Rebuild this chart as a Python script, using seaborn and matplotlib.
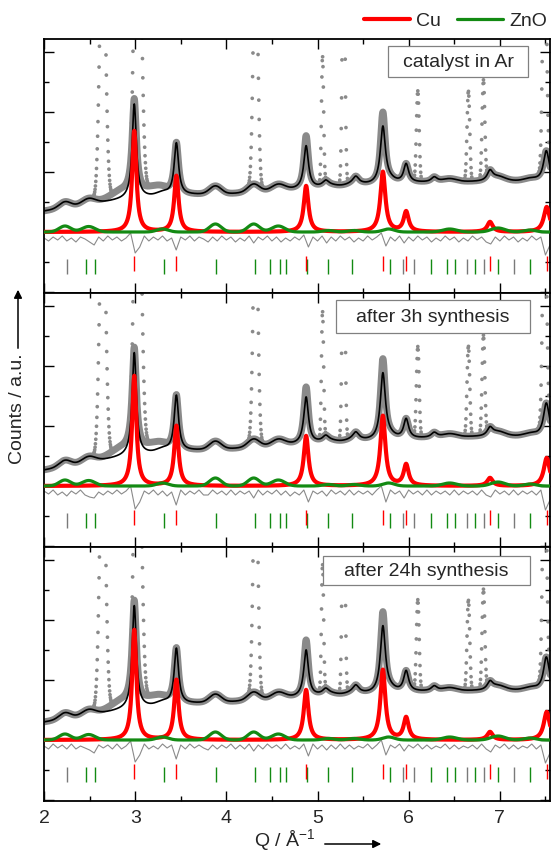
import numpy as np
import matplotlib
matplotlib.use("Agg")
import matplotlib.pyplot as plt
from matplotlib.patches import Rectangle, FancyArrowPatch
from matplotlib.lines import Line2D
import seaborn as sns

sns.set_theme(style="ticks")
plt.rcParams["font.family"] = ["Liberation Sans", "DejaVu Sans"]
plt.rcParams["mathtext.default"] = "regular"

# ---------------- reflection lists (Q in 1/Å) ----------------
cu_q = [2.990, 3.452, 4.875, 5.717, 5.972, 6.892, 7.514]
cu_fwhm = [0.055, 0.058, 0.062, 0.066, 0.066, 0.072, 0.078]
zno_tick_q = [2.458, 2.560, 3.320, 3.887, 4.310, 4.484, 4.593, 4.656, 4.887,
              5.113, 5.381, 5.795, 6.242, 6.418, 6.510, 6.729, 6.978, 7.333]
other_tick_q = [2.256, 5.937, 6.059, 6.645, 6.828, 7.157]

# broad ZnO contributions
zno_q = [2.23, 2.49, 3.30, 3.88, 4.30, 4.57, 5.12, 5.40, 5.78, 6.45, 6.98, 7.33]
zno_fwhm = [0.15, 0.17, 0.15, 0.15, 0.15, 0.17, 0.15, 0.15, 0.15, 0.18, 0.18, 0.15]

# additional calculated reflections of the remaining phases
extra_q = [5.09, 5.42, 6.28, 7.50]
extra_fwhm = [0.08, 0.08, 0.08, 0.06]

# sharp single-crystal spots from the sample environment (obs only)
spike_q = [2.643, 3.035, 4.320, 5.055, 5.286, 6.100, 6.655, 6.820, 7.490]
spike_h = [280, 300, 250, 126, 260, 90, 90, 99, 250]
spike_w = [0.075, 0.080, 0.058, 0.028, 0.035, 0.035, 0.035, 0.035, 0.047]

# unfitted intensity in the observed pattern
misfit_q = [2.85, 3.20, 4.875, 5.716]
misfit_w = [0.30, 0.25, 0.05, 0.05]

# background knots
bg_q = [2.0, 2.5, 3.0, 3.5, 4.0, 4.5, 5.0, 5.5, 6.0, 6.5, 7.0, 7.55]

# ---------------- per-sample values ----------------
labels = ["catalyst in Ar", "after 3h synthesis", "after 24h synthesis"]

bg_1 = [82, 89, 95, 98, 99, 102, 105, 108, 110, 111, 112, 112]
bg_2 = [77, 85, 92, 96, 98, 101, 104, 106, 108, 110, 111, 111]
bg_3 = [79, 86, 93, 97, 99, 102, 105, 107, 109, 110, 111, 111]

cu_h_1 = [101, 56, 46, 60, 20, 10, 25]
cu_h_2 = [110, 60, 50, 70, 21, 8, 28]
cu_h_3 = [110, 60, 50, 70, 22, 8, 28]

zno_h_1 = [6, 5.5, 3, 8, 8, 6, 1.5, 1.5, 3, 3, 4, 2]
zno_h_2 = [6, 5.5, 3, 8, 8, 6, 1.5, 1.5, 3, 3, 4, 2]
zno_h_3 = [6, 5.5, 3, 8, 8, 6, 1.5, 1.5, 3, 3, 4, 2]

extra_h_1 = [5, 7, 5, 8]
extra_h_2 = [5, 7, 5, 8]
extra_h_3 = [5, 7, 5, 8]

misfit_h_1 = [8, 8, 10, 14]
misfit_h_2 = [8, 8, 10, 14]
misfit_h_3 = [8, 8, 10, 14]

# difference curve (obs - calc), sampled every 0.05 from Q = 2.00 to 7.60
diff_1 = [1, -2, 2, -1, 3, -2, 1, -3, 2, 0, -3, -6, 2, -2, 3, -1, 2, -2, 1, 6,
          -14, -8, 3, -2, 2, -1, 3, -2, 1, -11, 2, -1, 3, -2, 2, 0, -3, 2, -2, 3,
          -1, 2, -3, 1, -2, 3, -4, 2, -1, 3, -2, 2, -3, 1, -2, 2, -1, 4, -8, 2,
          -2, 3, -4, 2, -2, 3, -1, 2, -3, 1, -2, 3, -1, 2, 6, -7, 2, -2, 3, -4,
          2, -2, 3, -1, 2, -3, 1, -2, 3, -1, 2, -3, 1, -2, 3, -1, 2, -3, -5, 2,
          -2, 3, -1, 2, -3, 1, -2, 3, -1, 2, -16, -6, 2]
diff_2 = [2, -1, 3, -2, 1, -3, 2, -1, 3, -2, -4, -5, 1, -2, 2, -1, 3, -1, 2, 7,
          -16, -9, 2, -1, 3, -2, 2, -3, 1, -12, 3, -2, 2, -1, 3, -2, -2, 3, -1, 2,
          -2, 3, -2, 2, -1, 2, -5, 3, -2, 2, -1, 3, -2, 2, -3, 1, -2, 3, -9, 2,
          -1, 2, -3, 3, -1, 2, -2, 3, -2, 2, -1, 2, -2, 3, 7, -9, 3, -1, 2, -5,
          3, -1, 2, -2, 3, -2, 2, -1, 2, -2, 3, -2, 2, -1, 2, -2, 3, -2, -4, 3,
          -1, 2, -2, 3, -2, 2, -1, 2, -2, 3, -17, -7, 3]
diff_3 = [1, -2, 3, -1, 2, -2, 3, -2, 1, -1, -3, -6, 2, -1, 2, -2, 3, -2, 1, 6,
          -15, -8, 3, -2, 1, -2, 3, -1, 2, -12, 2, -2, 3, -1, 2, -1, -3, 2, -2, 2,
          -1, 3, -2, 2, -2, 3, -4, 2, -2, 3, -1, 2, -2, 3, -2, 1, -2, 3, -9, 3,
          -2, 2, -3, 2, -2, 3, -2, 2, -2, 1, -1, 3, -2, 2, 7, -8, 2, -1, 3, -4,
          2, -1, 3, -2, 2, -2, 1, -1, 3, -2, 2, -2, 1, -1, 2, -2, 3, -2, -5, 2,
          -1, 3, -2, 2, -2, 1, -1, 3, -2, 2, -16, -6, 2]

panels = [
    dict(label=labels[0], bg=bg_1, cu=cu_h_1, zno=zno_h_1, extra=extra_h_1, misfit=misfit_h_1, diff=diff_1),
    dict(label=labels[1], bg=bg_2, cu=cu_h_2, zno=zno_h_2, extra=extra_h_2, misfit=misfit_h_2, diff=diff_2),
    dict(label=labels[2], bg=bg_3, cu=cu_h_3, zno=zno_h_3, extra=extra_h_3, misfit=misfit_h_3, diff=diff_3),
]
label_boxes = [(0.680, 0.850, 0.277, 0.122), (0.577, 0.843, 0.383, 0.129), (0.551, 0.850, 0.409, 0.115)]

# ---------------- profile functions ----------------
def lorentz(q, c, h, w):
    return h / (1.0 + ((q - c) / (w / 2.0)) ** 2)

def gauss(q, c, h, w):
    return h * np.exp(-4.0 * np.log(2.0) * ((q - c) / w) ** 2)

q = np.arange(2.0, 7.6, 0.004)
q_line = np.arange(2.0, 7.6, 0.0025)
q_diff = np.round(np.arange(2.0, 7.6001, 0.05), 3)

ZERO = 61.0        # baseline of the phase contributions
DIFF0 = 54.0       # baseline of the difference curve
CU_SCALE = 0.93

RED = "#ff0000"
GREEN = "#138a13"
GRAY = "#8a8a8a"


def model(x, p):
    cu = np.zeros_like(x)
    for c, h, w in zip(cu_q, p["cu"], cu_fwhm):
        cu += lorentz(x, c, h, w)
    zno = np.zeros_like(x)
    for c, h, w in zip(zno_q, p["zno"], zno_fwhm):
        zno += gauss(x, c, h, w)
    extra = np.zeros_like(x)
    for c, h, w in zip(extra_q, p["extra"], extra_fwhm):
        extra += lorentz(x, c, h, w)
    bg = np.interp(x, bg_q, p["bg"])
    calc = bg + CU_SCALE * cu + zno + extra
    misfit = np.zeros_like(x)
    for c, h, w in zip(misfit_q, p["misfit"], misfit_w):
        misfit += gauss(x, c, h, w)
    spikes = np.zeros_like(x)
    for c, h, w in zip(spike_q, spike_h, spike_w):
        spikes += gauss(x, c, h, w)
    return cu, zno, calc, calc + misfit, calc + misfit + spikes


fig = plt.figure(figsize=(5.52, 8.54), dpi=100)
W, H = 552.0, 854.0
left, right = 44 / W, 550 / W
tops = [40, 294, 548]
ph = 254
axes = []
for t in tops:
    ax = fig.add_axes([left, 1 - (t + ph) / H, right - left, ph / H])
    axes.append(ax)

for i, (ax, p) in enumerate(zip(axes, panels)):
    cu, zno, calc, obs_smooth, _ = model(q_line, p)
    _, _, _, _, obs = model(q, p)

    # observed data
    sns.lineplot(x=q_line, y=obs_smooth, ax=ax, color=GRAY, lw=5.0, estimator=None,
                 sort=False, legend=False, zorder=1)
    sns.scatterplot(x=q, y=obs, ax=ax, color=GRAY, s=7, linewidth=0,
                    edgecolor="none", legend=False, zorder=1)
    # calculated pattern
    sns.lineplot(x=q_line, y=calc, ax=ax, color="black", lw=1.2, estimator=None,
                 sort=False, legend=False, zorder=3)
    # difference curve
    sns.lineplot(x=q_diff, y=DIFF0 + np.array(p["diff"], float), ax=ax, color=GRAY,
                 lw=0.8, estimator=None, sort=False, legend=False, zorder=2)
    # phase contributions
    sns.lineplot(x=q_line, y=ZERO + cu, ax=ax, color=RED, lw=3.0, estimator=None,
                 sort=False, legend=False, zorder=4)
    sns.lineplot(x=q_line, y=ZERO + zno, ax=ax, color=GREEN, lw=2.3, estimator=None,
                 sort=False, legend=False, zorder=5)
    # reflection markers
    ax.vlines(other_tick_q, 19, 34, colors="#7a7a7a", lw=1.0, zorder=3)
    ax.vlines(zno_tick_q, 19, 34, colors=GREEN, lw=1.0, zorder=3)
    ax.vlines(cu_q, 22, 37, colors=RED, lw=1.0, zorder=4)

    ax.set_xlim(2.0, 7.55)
    ax.set_ylim(0, 254)
    ax.set_xticks([2, 3, 4, 5, 6, 7])
    ax.set_xticks([2.5, 3.5, 4.5, 5.5, 6.5, 7.5], minor=True)
    ax.set_yticks([1.3, 61.3, 121.3, 181.3, 241.3])
    ax.set_yticks([31.3, 91.3, 151.3, 211.3], minor=True)
    ax.tick_params(which="both", direction="in", top=True, right=True,
                   width=1.0, color="black")
    ax.tick_params(which="major", length=7.5)
    ax.tick_params(which="minor", length=3.8)
    ax.set_yticklabels([])
    ax.set_xlabel("")
    ax.set_ylabel("")
    if i < 2:
        ax.set_xticklabels([])
    else:
        ax.tick_params(axis="x", which="major", labelsize=14, pad=6)
    for s in ax.spines.values():
        s.set_linewidth(1.3)
        s.set_color("black")

    bx, by, bw, bh = label_boxes[i]
    ax.add_patch(Rectangle((bx, by), bw, bh, transform=ax.transAxes,
                           facecolor="white", edgecolor="#808080", lw=0.9, zorder=6))
    ax.text(bx + bw / 2, by + bh / 2, p["label"], transform=ax.transAxes,
            ha="center", va="center", fontsize=14, zorder=7)

# legend
handles = [Line2D([], [], color=RED, lw=3.0), Line2D([], [], color=GREEN, lw=2.3)]
fig.legend(handles, ["Cu", "ZnO"], loc="center right",
           bbox_to_anchor=(547 / W, 1 - 21.5 / H), ncol=2, frameon=False,
           fontsize=14, handlelength=2.4, handletextpad=0.3, columnspacing=0.8,
           borderpad=0, borderaxespad=0)

# axis titles with direction arrows
fig.text(18 / W, 1 - 409 / H, "Counts / a.u.", rotation=90, ha="center",
         va="center", fontsize=14)
fig.add_artist(FancyArrowPatch(
    (18 / W, 1 - 352 / H), (18 / W, 1 - 288 / H), transform=fig.transFigure,
    arrowstyle="-|>", mutation_scale=12, lw=1.1, color="black"))
fig.text(254 / W, 1 - 846 / H, "Q / Å$^{-1}$", ha="left", va="baseline", fontsize=14)
fig.add_artist(FancyArrowPatch(
    (322 / W, 1 - 845 / H), (384 / W, 1 - 845 / H), transform=fig.transFigure,
    arrowstyle="-|>", mutation_scale=12, lw=1.1, color="black"))

fig.savefig("out.png", dpi=100)
